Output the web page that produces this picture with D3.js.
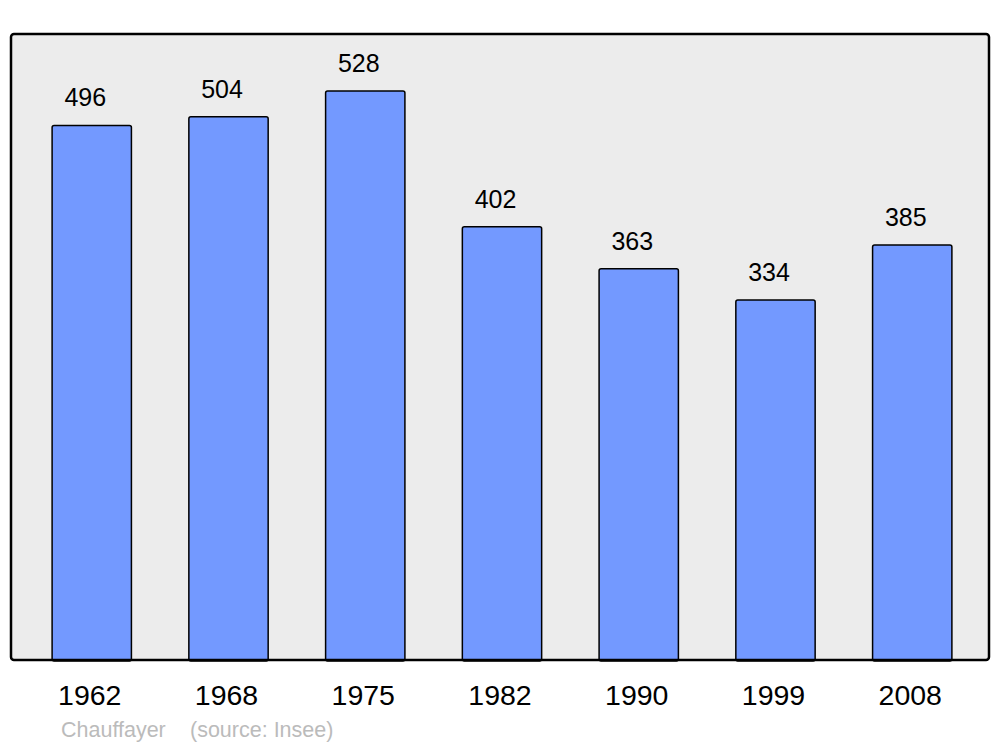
<!DOCTYPE html>
<html>
<head>
<meta charset="utf-8">
<script src="https://cdn.jsdelivr.net/npm/d3@7"></script>
<style>
  body { margin: 0; background: #fff; }
  text { font-family: "Liberation Sans", Arial, sans-serif; }
</style>
</head>
<body>
<script>
const years = ['1962', '1968', '1975', '1982', '1990', '1999', '2008']
const population = [496, 504, 528, 402, 363, 334, 385]
const commune = 'Chauffayer'
const source = '(source: Insee)'

const width = 1000
const height = 747
const panel = { left: 11, right: 989, top: 34, bottom: 660 }

const svg = d3.select('body').append('svg')
  .attr('width', width)
  .attr('height', height)

const panelRect = sel => sel
  .attr('x', panel.left)
  .attr('y', panel.top)
  .attr('width', panel.right - panel.left)
  .attr('height', panel.bottom - panel.top)
  .attr('rx', 3)

svg.append('rect').call(panelRect)
  .attr('fill', '#ececec')

const xScale = d3.scaleBand()
  .domain(years)
  .range([13, 991])
  .paddingInner(0.42)
  .paddingOuter(0.286)

const yScale = d3.scaleLinear()
  .domain([0, d3.max(population) * 1.1])
  .range([panel.bottom, panel.top])

const data = years.map((y, i) => ({ year: y, value: population[i] }))

svg.selectAll('rect.bar')
  .data(data)
  .enter()
  .append('rect')
  .attr('class', 'bar')
  .attr('x', d => xScale(d.year))
  .attr('y', d => yScale(d.value))
  .attr('width', xScale.bandwidth())
  .attr('height', d => panel.bottom - yScale(d.value) + 1)
  .attr('rx', 2)
  .attr('fill', '#7399ff')
  .attr('stroke', '#000')
  .attr('stroke-width', 1.5)

// panel outline on top of the bar feet
svg.append('rect').call(panelRect)
  .attr('fill', 'none')
  .attr('stroke', '#000')
  .attr('stroke-width', 2.5)

svg.selectAll('text.value')
  .data(data)
  .enter()
  .append('text')
  .attr('class', 'value')
  .attr('x', d => xScale(d.year) + xScale.bandwidth() / 2 - 6.5)
  .attr('y', d => yScale(d.value) - 19)
  .attr('text-anchor', 'middle')
  .attr('font-size', 25)
  .attr('fill', '#000')
  .text(d => d.value)

svg.selectAll('text.year')
  .data(data)
  .enter()
  .append('text')
  .attr('class', 'year')
  .attr('x', d => xScale(d.year) + xScale.bandwidth() / 2 - 2)
  .attr('y', 705)
  .attr('text-anchor', 'middle')
  .attr('font-size', 28.5)
  .attr('fill', '#000')
  .text(d => d.year)

svg.append('text')
  .attr('x', 61)
  .attr('y', 737)
  .attr('font-size', 21.5)
  .attr('fill', '#bbb')
  .text(commune)

svg.append('text')
  .attr('x', 190)
  .attr('y', 737)
  .attr('font-size', 21.5)
  .attr('fill', '#bbb')
  .text(source)
</script>
</body>
</html>
